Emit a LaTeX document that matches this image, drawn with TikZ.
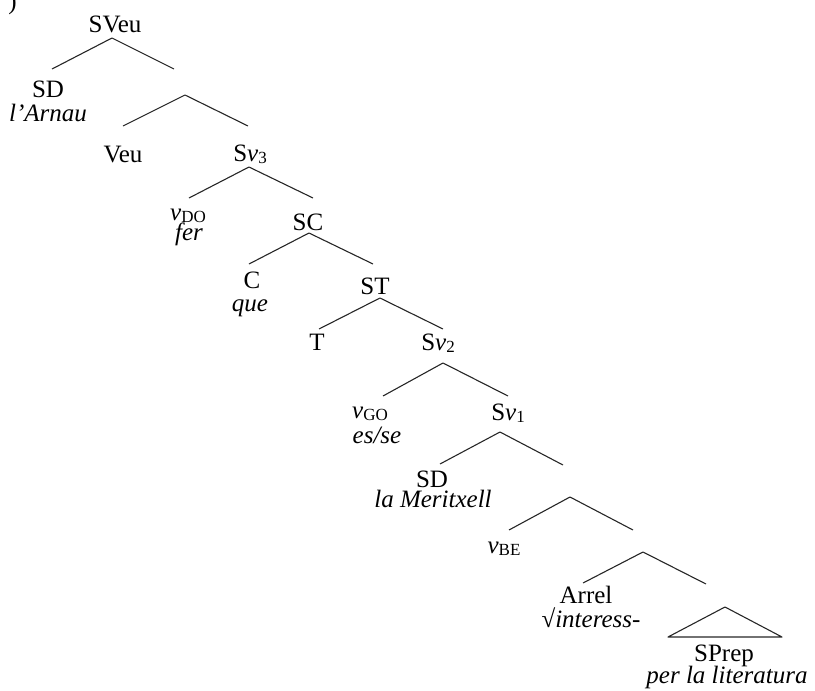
\documentclass[tikz,border=0pt]{standalone}
\usepackage{fontspec}
\setmainfont{Liberation Serif}
\newcommand\mysub[1]{\raisebox{-2.5pt}{\fontsize{17}{17}\selectfont #1}}
\begin{document}
\begin{tikzpicture}[x=1pt,y=-1pt,
  lbl/.style={anchor=base,inner sep=0pt,font=\fontsize{25}{30}\selectfont},
  branch/.style={line width=1.1pt,draw=black!85,line join=round}]
\useasboundingbox (0,0) rectangle (815,691);
% stray mark
\node[lbl,anchor=base east] (paren) at (17,9) {)};
% labels
\node[lbl] (sveu) at (115,32) {SVeu};
\node[lbl] (sd1) at (48,97) {SD};
\node[lbl] (arnau) at (48,121) {\textit{l’Arnau}};
\node[lbl] (veu) at (123,162) {Veu};
\node[lbl] (sv3) at (250,161) {S\textit{v}\mysub{3}};
\node[lbl] (vdo) at (188,220) {\textit{v}\mysub{DO}};
\node[lbl] (fer) at (189,240) {\textit{fer}};
\node[lbl] (sc) at (308,230) {SC};
\node[lbl] (c) at (252,288) {C};
\node[lbl] (que) at (250,311) {\textit{que}};
\node[lbl] (st) at (375,294) {ST};
\node[lbl] (t) at (317,350) {T};
\node[lbl] (sv2) at (438,350) {S\textit{v}\mysub{2}};
\node[lbl] (vgo) at (370,418) {\textit{v}\mysub{GO}};
\node[lbl] (esse) at (377,443) {\textit{es/se}};
\node[lbl] (sv1) at (508,420) {S\textit{v}\mysub{1}};
\node[lbl] (sd2) at (432,487) {SD};
\node[lbl] (meri) at (433,507) {\textit{la Meritxell}};
\node[lbl] (vbe) at (504,553) {\textit{v}\mysub{BE}};
\node[lbl] (arrel) at (586,603) {Arrel};
\node[lbl] (arr) at (591,627) {√\textit{interess-}};
\node[lbl] (sprep) at (724,661) {SPrep};
\node[lbl] (perla) at (727,683) {\textit{per la literatura}};
% branch points
\coordinate (b1) at (112,38);  \coordinate (b1l) at (52,69);   \coordinate (b1r) at (174,69);
\coordinate (b2) at (185,95);  \coordinate (b2l) at (123,126); \coordinate (b2r) at (248,126);
\coordinate (b3) at (249,167); \coordinate (b3l) at (189,198); \coordinate (b3r) at (313,198);
\coordinate (b4) at (309,233); \coordinate (b4l) at (249,264); \coordinate (b4r) at (373,264);
\coordinate (b5) at (380,298); \coordinate (b5l) at (319,329); \coordinate (b5r) at (443,329);
\coordinate (b6) at (443,363); \coordinate (b6l) at (383,396); \coordinate (b6r) at (508,396);
\coordinate (b7) at (500,432); \coordinate (b7l) at (440,464); \coordinate (b7r) at (563,465);
\coordinate (b8) at (570,497); \coordinate (b8l) at (509,530); \coordinate (b8r) at (633,530);
\coordinate (b9) at (643,552); \coordinate (b9l) at (583,583); \coordinate (b9r) at (706,584);
\coordinate (tri) at (725,607); \coordinate (tril) at (668,637); \coordinate (trir) at (782,637);
% branches
\foreach \b in {b1,b2,b3,b4,b5,b6,b7,b8,b9}
  \draw[branch] (\b l) -- (\b) -- (\b r);
\draw[branch] (tril) -- (tri) -- (trir) -- cycle;
\end{tikzpicture}
\end{document}
